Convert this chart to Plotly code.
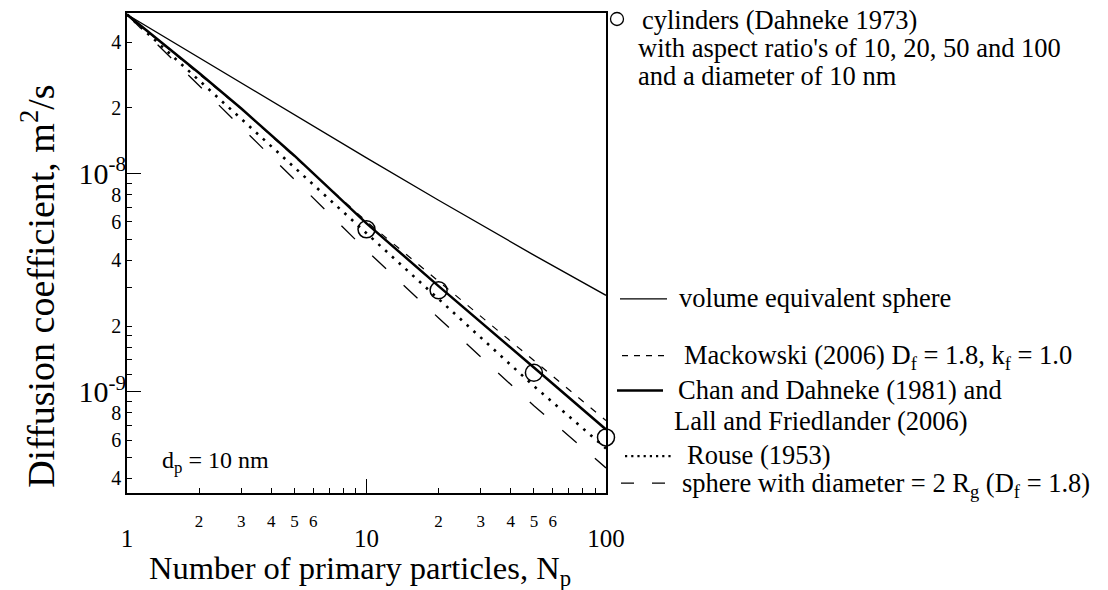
import plotly.graph_objects as go

# ---------------- data ----------------
N_vol = [1, 2, 5, 10, 20, 50, 100]
D_vol = [5.36e-8, 3.39e-8, 1.85e-8, 1.18e-8, 7.55e-9, 4.23e-9, 2.765e-9]

N_mod = [1, 2, 3, 5, 10, 20, 50, 100]
D_mack = [5.36e-8, 2.862e-8, 1.98e-8, 1.196e-8, 6.03e-9, 3.21e-9, 1.385e-9, 7.37e-10]
D_chan = [5.36e-8, 2.89e-8, 1.987e-8, 1.208e-8, 5.91e-9, 3.048e-9, 1.291e-9, 6.71e-10]

N_rouse = [1, 2, 5, 10, 20, 50, 100]
D_rouse = [5.36e-8, 2.675e-8, 1.066e-8, 5.32e-9, 2.645e-9, 1.061e-9, 5.49e-10]

N_rg = [1, 2, 5, 10, 20, 50, 100]
D_rg = [5.36e-8, 2.533e-8, 9.39e-9, 4.44e-9, 2.177e-9, 8.61e-10, 4.47e-10]

N_cyl = [10, 20, 50, 100]
D_cyl = [5.55e-9, 2.92e-9, 1.22e-9, 6.17e-10]

x_minor_vals = [2, 3, 4, 5, 6, 7, 8, 9, 20, 30, 40, 50, 60, 70, 80, 90]
x_minor_text = ["2", "3", "4", "5", "6", "", "", "", "2", "3", "4", "5", "6", "", "", ""]
x_major_vals = [1, 10, 100]
x_major_text = ["1", "10", "100"]

y_minor_vals = [4e-10, 5e-10, 6e-10, 7e-10, 8e-10, 9e-10,
                1.2e-9, 1.4e-9, 1.6e-9, 1.8e-9,
                2e-9, 3e-9, 4e-9, 5e-9, 6e-9, 7e-9, 8e-9, 9e-9,
                2e-8, 3e-8, 4e-8]
y_minor_text = ["4", "", "6", "", "8", "",
                "", "", "", "",
                "2", "", "4", "", "6", "", "8", "",
                "2", "", "4"]
y_major_vals = [1e-9, 1e-8]
y_major_text = ["10<sup>-9</sup>", "10<sup>-8</sup>"]

X_RANGE = [0, 2]
Y_RANGE = [-9.4647, -7.2636]

FONT = "Liberation Serif"

# ---------------- figure ----------------
fig = go.Figure()

fig.add_trace(go.Scatter(x=N_vol, y=D_vol, mode="lines",
                         line=dict(color="black", width=1.3), showlegend=False))
fig.add_trace(go.Scatter(x=N_mod, y=D_mack, mode="lines",
                         line=dict(color="black", width=1.2, dash="7px,9px"), showlegend=False))
fig.add_trace(go.Scatter(x=N_mod, y=D_chan, mode="lines",
                         line=dict(color="black", width=2.5), showlegend=False))
fig.add_trace(go.Scatter(x=N_rouse, y=D_rouse, mode="lines",
                         line=dict(color="black", width=2.6, dash="2.6px,6.6px"), showlegend=False))
fig.add_trace(go.Scatter(x=N_rg, y=D_rg, mode="lines",
                         line=dict(color="black", width=1.3, dash="19px,24px"), showlegend=False))
fig.add_trace(go.Scatter(x=N_cyl, y=D_cyl, mode="markers", cliponaxis=False,
                         marker=dict(symbol="circle-open", size=17, color="black",
                                     line=dict(color="black", width=1.5)),
                         showlegend=False))
# empty trace so the overlay axes (major ticks) get drawn
fig.add_trace(go.Scatter(x=[], y=[], xaxis="x2", yaxis="y2", showlegend=False))

L, R, T, B = 127, 606, 11, 493
W, H = 1108, 590


def px(x):
    return (x - L) / (R - L)


def py(y):
    return (B - y) / (B - T)


axis_common = dict(showgrid=False, zeroline=False, color="black", ticks="inside",
                   tickcolor="black", tickwidth=1.2, tickmode="array")

fig.update_layout(
    width=W, height=H,
    margin=dict(l=L, r=W - R, t=T, b=H - B),
    paper_bgcolor="white", plot_bgcolor="white",
    font=dict(family=FONT, color="black"),
    xaxis=dict(type="log", range=X_RANGE, showline=True, linecolor="black", linewidth=1.5,
               mirror=True, tickvals=x_minor_vals, ticktext=x_minor_text, ticklen=5,
               tickfont=dict(family=FONT, size=17, color="black"), ticklabelstandoff=12,
               **axis_common),
    xaxis2=dict(type="log", range=X_RANGE, overlaying="x", anchor="y2", side="bottom",
                showline=False, tickvals=x_major_vals, ticktext=x_major_text, ticklen=14,
                tickfont=dict(family=FONT, size=25, color="black"), ticklabelstandoff=28,
                **axis_common),
    yaxis=dict(type="log", range=Y_RANGE, showline=True, linecolor="black", linewidth=1.5,
               mirror=True, tickvals=y_minor_vals, ticktext=y_minor_text, ticklen=5,
               tickfont=dict(family=FONT, size=20, color="black"), ticklabelstandoff=0,
               **axis_common),
    yaxis2=dict(type="log", range=Y_RANGE, overlaying="y", anchor="x2", side="left",
                showline=False, tickvals=y_major_vals, ticktext=y_major_text, ticklen=14,
                tickfont=dict(family=FONT, size=30, color="black"), ticklabelstandoff=0,
                **axis_common),
)


def text(x, y, s, size=26.5, **kw):
    fig.add_annotation(xref="paper", yref="paper", x=px(x), y=py(y), text=s,
                       showarrow=False, xanchor=kw.pop("xanchor", "left"),
                       yanchor="middle", font=dict(family=FONT, size=size, color="black"), **kw)


# axis titles
text(360, 571, "Number of primary particles, N<sub>p</sub>", size=32.5, xanchor="center")
text(38, 286, "Diffusion coefficient, m<sup>2</sup>/s", size=38, xanchor="center", textangle=-90)

# inside note
text(160, 462, "d<sub>p</sub> = 10 nm", size=24)

# right-hand legend text
text(640, 18, "cylinders (Dahneke 1973)")
text(636, 46, "with aspect ratio's of 10, 20, 50 and 100")
text(636, 74, "and a diameter of 10 nm")
text(677, 297, "volume equivalent sphere")
text(682, 356, "Mackowski (2006) D<sub>f</sub> = 1.8, k<sub>f</sub> = 1.0")
text(676, 390, "Chan and Dahneke (1981) and")
text(672, 421, "Lall and Friedlander (2006)")
text(685, 455, "Rouse (1953)")
text(680, 485, "sphere with diameter = 2 R<sub>g</sub> (D<sub>f</sub> = 1.8)")

# legend samples
fig.add_shape(type="circle", xref="paper", yref="paper", xsizemode="pixel", ysizemode="pixel",
              xanchor=px(617), yanchor=py(17), x0=-6.5, x1=6.5, y0=-6.5, y1=6.5,
              line=dict(color="black", width=1.3))


def sample(x0, x1, y, width, dash):
    fig.add_shape(type="line", xref="paper", yref="paper", x0=px(x0), x1=px(x1),
                  y0=py(y), y1=py(y), line=dict(color="black", width=width, dash=dash))


sample(620, 667, 298, 1.3, "solid")
sample(622, 667, 355, 1.2, "6px,6px")
sample(617, 663, 390, 2.5, "solid")
sample(625, 673, 456, 2.2, "2.2px,4px")
sample(621, 667, 483, 1.3, "13px,18px")

fig.write_html("out.html")
